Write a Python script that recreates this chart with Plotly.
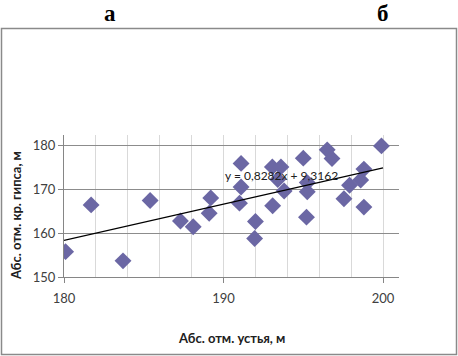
import plotly.graph_objects as go

# Data
x_vals = [180.1, 181.7, 183.7, 185.4, 187.3, 188.1, 189.1, 189.2,
          191.1, 191.1, 191.0, 192.0, 191.95, 193.06, 193.08, 193.6,
          193.4, 193.8, 195.0, 195.25, 195.25, 195.2, 196.5, 196.8,
          197.55, 197.9, 198.6, 198.8, 198.8, 199.9]
y_vals = [155.8, 166.5, 153.7, 167.5, 162.8, 161.5, 164.6, 168.1,
          176.0, 170.6, 166.9, 162.7, 158.8, 175.2, 166.3, 175.2,
          172.3, 169.7, 177.2, 171.6, 169.5, 163.7, 179.1, 177.1,
          167.9, 171.0, 172.2, 174.7, 166.0, 180.0]
slope = 0.8282
intercept = 9.3162
trend_x = [180, 200]
trend_y = [slope * v + intercept for v in trend_x]
eq_label = "y = 0,8282x + 9,3162"
x_title = "Абс. отм. устья, м"
y_title = "Абс. отм. кр. гипса, м"
panel_labels = ["а", "б"]

W, H = 458, 356
L, R, T, B = 64, 59, 135, 79
pw, ph = W - L - R, H - T - B


def px(xp):
    return (xp - L) / pw


def py(yp):
    return 1 - (yp - T) / ph


fig = go.Figure()
fig.add_trace(go.Scatter(
    x=x_vals, y=y_vals, mode="markers",
    marker=dict(symbol="diamond", size=13, color="#6B67A4", line=dict(width=0)),
    showlegend=False, hoverinfo="skip"))
fig.add_trace(go.Scatter(
    x=trend_x, y=trend_y, mode="lines",
    line=dict(color="black", width=1.3),
    showlegend=False, hoverinfo="skip"))

tick_font = dict(family="Lato, Open Sans, sans-serif", size=13, color="#404040")
fig.update_xaxes(
    range=[180, 201], tickvals=[180, 190, 200], showgrid=True,
    gridcolor="#d9d9d9", gridwidth=1,
    minor=dict(dtick=2, tick0=180, showgrid=True, gridcolor="#d9d9d9", gridwidth=1),
    showline=True, linecolor="#868686", linewidth=1,
    ticks="outside", ticklen=5, tickcolor="#868686",
    tickfont=tick_font, zeroline=False, ticklabelstandoff=4)
fig.update_yaxes(
    range=[150, 182.5], tickvals=[150, 160, 170, 180], showgrid=True,
    gridcolor="#8c8c8c", gridwidth=1,
    showline=True, linecolor="#868686", linewidth=1,
    ticks="outside", ticklen=5, tickcolor="#868686",
    tickfont=tick_font, zeroline=False)

annotations = [
    dict(x=px(223), y=py(175), xref="paper", yref="paper", text=eq_label,
         showarrow=False, font=dict(family="Lato, sans-serif", size=12, color="#202020"),
         xanchor="left", yanchor="middle"),
    dict(x=px(231), y=py(338), xref="paper", yref="paper", text="<b>" + x_title + "</b>",
         showarrow=False, font=dict(family="Lato, sans-serif", size=13, color="#202020"),
         xanchor="center", yanchor="middle"),
    dict(x=px(16), y=py(216), xref="paper", yref="paper", text="<b>" + y_title + "</b>",
         showarrow=False, textangle=-90,
         font=dict(family="Lato, sans-serif", size=13, color="#202020"),
         xanchor="center", yanchor="middle"),
    dict(x=px(110), y=py(13), xref="paper", yref="paper", text="<b>" + panel_labels[0] + "</b>",
         showarrow=False, font=dict(family="Liberation Serif, serif", size=23, color="black"),
         xanchor="center", yanchor="middle"),
    dict(x=px(383), y=py(13), xref="paper", yref="paper", text="<b>" + panel_labels[1] + "</b>",
         showarrow=False, font=dict(family="Liberation Serif, serif", size=23, color="black"),
         xanchor="center", yanchor="middle"),
]

shapes = [
    dict(type="rect", xref="paper", yref="paper",
         x0=px(1.5), x1=px(456.5), y0=py(28.5), y1=py(354.5),
         line=dict(color="#8a8a8a", width=1.5), fillcolor="rgba(0,0,0,0)", layer="below"),
]

fig.update_layout(
    width=W, height=H, margin=dict(l=L, r=R, t=T, b=B, autoexpand=False),
    paper_bgcolor="white", plot_bgcolor="white",
    annotations=annotations, shapes=shapes)

fig.write_html("out.html", config={"displayModeBar": False},
               post_script="document.body.style.margin='0px';document.body.style.overflow='hidden';")
